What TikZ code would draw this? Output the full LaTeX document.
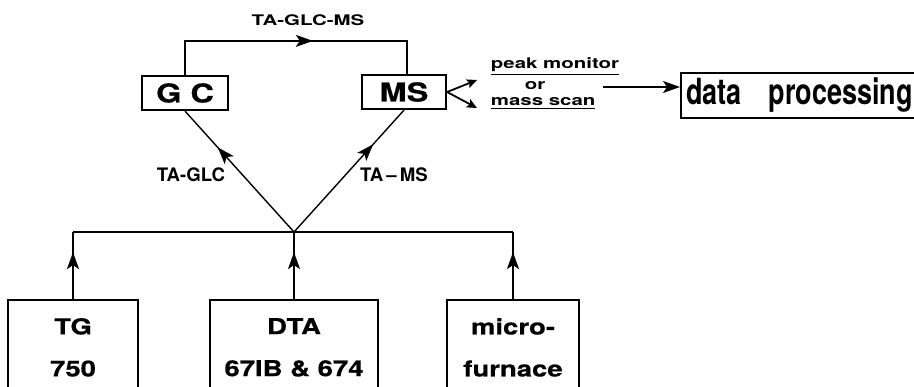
\documentclass[tikz,border=0pt]{standalone}
\usepackage{fontspec}
\setmainfont{TeX Gyre Heros}
\newfontfamily\widefont{TeX Gyre Heros}[FakeStretch=1.25, FakeBold=0.6]
\newfontfamily\labelfont{TeX Gyre Heros}[FakeStretch=1.4]
\newfontfamily\tallfont{TeX Gyre Heros}[FakeStretch=0.75]
\usetikzlibrary{positioning, arrows.meta, decorations.markings}

\begin{document}
\begin{tikzpicture}[
    x=0.5pt, y=-0.5pt,
    >={Stealth[length=8.5pt, width=6pt, inset=2pt]},
    line width=0.9pt,
    unit/.style={draw=black, line width=1.1pt, inner sep=0pt, font=\widefont\bfseries\fontsize{13}{15}\selectfont},
    source/.style={draw=black, line width=1.1pt, anchor=north, align=center, inner xsep=0pt, inner ysep=9pt, font=\widefont\bfseries\fontsize{11}{21}\selectfont},
    tag/.style={inner sep=0pt, font=\labelfont\bfseries\fontsize{7.3}{9}\selectfont},
    route/.style={inner sep=0pt, font=\bfseries\fontsize{9.3}{11}\selectfont},
    leg/.style={line width=0.7pt},
    small/.style={->, >={Stealth[length=5pt, width=4.5pt, inset=1pt]}},
    midarrow/.style={postaction={decorate}, decoration={markings, mark=at position #1 with {\arrow{>}}}}
]
\useasboundingbox (0,0) rectangle (914,386);
\clip (0,0) rectangle (914,386);

% Instruments
\node[source, minimum width=65pt] (TG) at (73,299) {TG\\750};
\node[source, minimum width=84pt] (DTA) at (294,299) {DTA\\67IB \& 674};
\node[source, minimum width=66pt] (micro) at (513,299) {micro-\\furnace};

% Detectors
\node[unit, minimum width=43pt, minimum height=17pt] (GC) at (185,93) {G C};
\node[unit, minimum width=42pt, minimum height=17pt] (MS) at (404,92) {MS};
\node[draw=black, line width=1.1pt, anchor=west, minimum height=22.5pt, text width=125pt, align=left, inner xsep=2.5pt, inner ysep=0pt,
      font=\tallfont\bfseries\fontsize{18}{20}\selectfont] (data) at (680,95.5) {data\hspace{13.5pt}processing};

% Collector line
\coordinate (J) at (294,232);
\draw (TG.north |- J) -- (micro.north |- J);
\draw[midarrow=0.7] (TG.north) -- (TG.north |- J);
\draw[midarrow=0.7] (DTA.north) -- (J);
\draw[midarrow=0.7] (micro.north) -- (micro.north |- J);

% Couplings
\draw[leg, midarrow=0.7] (J) -- (GC.south);
\draw[leg, midarrow=0.72] (J) -- (MS.south);
\node[route] (tglc) at (191,175) {TA-GLC};
\node[route] (tms) at (394,175) {TA\,--\,MS};
\draw[midarrow=0.56] (GC.north) -- ++(0,-34) -| ([xshift=1.5pt]MS.north);
\node[tag] (tglcms) at (308,20) {TA-GLC-MS};

% Output of MS
\coordinate (fork) at (MS.east);
\coordinate (peakend) at (477,80);
\coordinate (massend) at (477,108);
\draw[small] (fork) -- (peakend);
\draw[small] (fork) -- (massend);
\node[tag, anchor=base west] (peak) at (490,68) {\underline{peak monitor}};
\node[tag, anchor=base west] (or) at (524,89) {or};
\node[tag, anchor=base west] (mass) at (490,105) {\underline{mass scan}};
\coordinate (orend) at (603,87);
\draw[->] (orend) -- (orend -| data.west);

\end{tikzpicture}
\end{document}
